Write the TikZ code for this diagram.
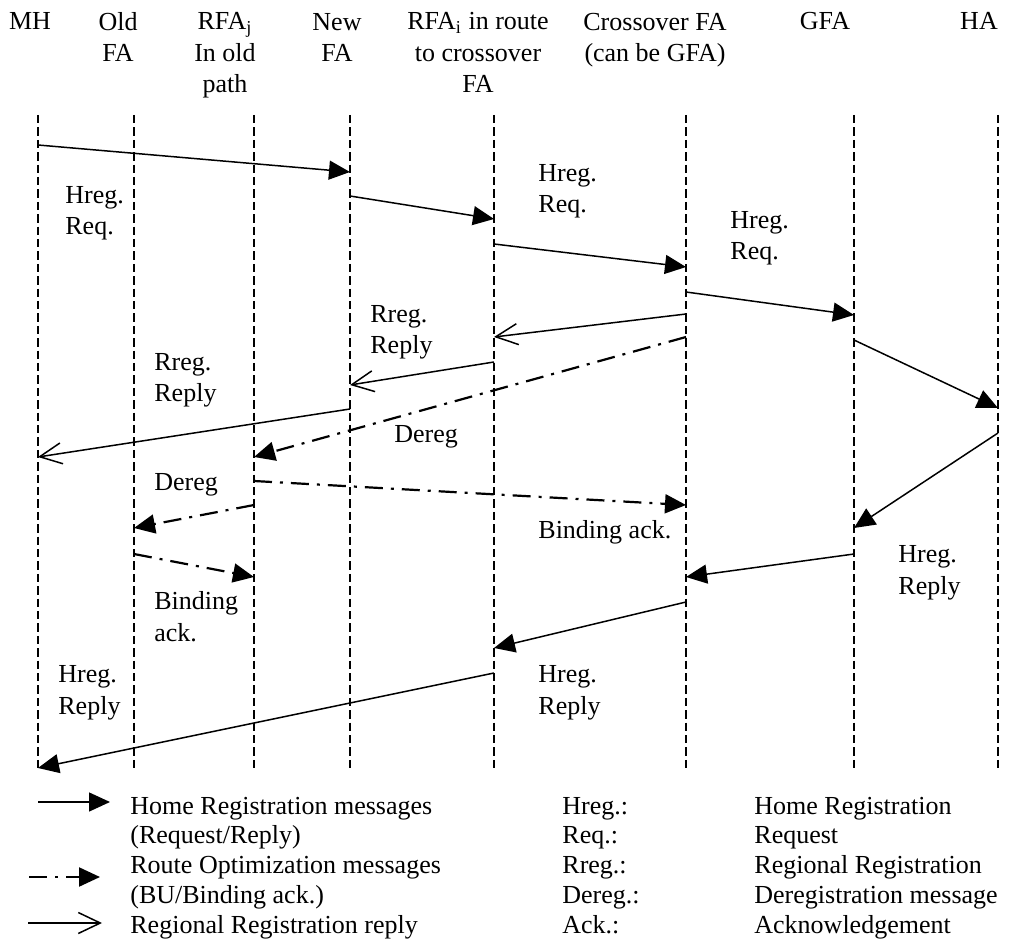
\documentclass[tikz,border=0pt]{standalone}
\usepackage{fontspec}
\setmainfont{Liberation Serif}
\usetikzlibrary{arrows.meta}

\begin{document}
\begin{tikzpicture}[x=0.5pt, y=-0.5pt,
                every node/.style = {inner sep=0pt, font=\fontsize{13}{15.75}\selectfont},
                head/.style = {anchor=base, align=center},
                lbl/.style = {anchor=base west, align=left},
                key/.style = {anchor=base west, align=left, font=\fontsize{13}{14.875}\selectfont},
                life/.style = {line width=0.6pt, dash pattern=on 4.2pt off 2pt},
                hreg/.style = {line width=0.75pt, -{Triangle[length=10.5pt, width=9.5pt]}},
                bu/.style = {line width=1.1pt, dash pattern=on 9pt off 4pt on 1.5pt off 4pt, -{Triangle[length=10.5pt, width=9.5pt]}},
                rreg/.style = {line width=0.75pt, -{Straight Barb[length=11pt, width=10.5pt]}}]
                \useasboundingbox (0,0) rectangle (1016,940);

                \node[head] (MH) at (30,30) {MH};
                \node[head] (OFA) at (118,62) {Old\\FA};
                \node[head] (RFAj) at (225,93) {RFA\textsubscript{j}\\In old\\path};
                \node[head] (NFA) at (337,62) {New\\FA};
                \node[head] (RFAi) at (478,93) {RFA\textsubscript{i} in route\\to crossover\\FA};
                \node[head] (CFA) at (655,62) {Crossover FA\\(can be GFA)};
                \node[head] (GFA) at (825,30) {GFA};
                \node[head] (HA) at (979,30) {HA};

                \foreach \n/\x in {mh/38, ofa/134, rfaj/254, nfa/350, rfai/494, cfa/686, gfa/854, ha/998}
                {
                    \coordinate (\n) at (\x,115);
                    \coordinate (\n b) at (\x,772);
                    \draw[life] (\n) -- (\n b);
                }

                \draw[hreg] (mh |- 0,145) -- (nfa |- 0,172);
                \draw[hreg] (nfa |- 0,196) -- (rfai |- 0,219);
                \draw[hreg] (rfai |- 0,244) -- (cfa |- 0,267);
                \draw[hreg] (cfa |- 0,292) -- (gfa |- 0,315);
                \draw[hreg] (gfa |- 0,340) -- (ha |- 0,408);
                \draw[rreg] (cfa |- 0,314) -- (rfai |- 0,337);
                \draw[rreg] (rfai |- 0,362) -- (nfa |- 0,385);
                \draw[rreg] (nfa |- 0,409) -- (mh |- 0,457);
                \draw[bu] (cfa |- 0,337) -- (rfaj |- 0,457);
                \draw[bu] (rfaj |- 0,481) -- (cfa |- 0,505);
                \draw[bu] (rfaj |- 0,505) -- (ofa |- 0,528);
                \draw[bu] (ofa |- 0,554) -- (rfaj |- 0,577);
                \draw[hreg] (ha |- 0,433) -- (gfa |- 0,528);
                \draw[hreg] (gfa |- 0,554) -- (cfa |- 0,577);
                \draw[hreg] (cfa |- 0,602) -- (rfai |- 0,648);
                \draw[hreg] (rfai |- 0,673) -- (mh |- 0,768);

                \node[lbl] (l1) at (65,235) {Hreg.\\Req.};
                \node[lbl] (l2) at (538,213) {Hreg.\\Req.};
                \node[lbl] (l3) at (730,260) {Hreg.\\Req.};
                \node[lbl] (l4) at (370,354) {Rreg.\\Reply};
                \node[lbl] (l5) at (154,402) {Rreg.\\Reply};
                \node[lbl] (l6) at (394,443) {Dereg};
                \node[lbl] (l7) at (154,490) {Dereg};
                \node[lbl] (l8) at (538,538) {Binding ack.};
                \node[lbl] (l9) at (154,641) {Binding\\ack.};
                \node[lbl] (l10) at (898,594) {Hreg.\\Reply};
                \node[lbl] (l11) at (58,714) {Hreg.\\Reply};
                \node[lbl] (l12) at (538,714) {Hreg.\\Reply};

                \coordinate (k1) at (38,802);
                \coordinate (k1e) at (110,802);
                \coordinate (k2) at (29,877);
                \coordinate (k2e) at (100,877);
                \coordinate (k3) at (28,923);
                \coordinate (k3e) at (102,923);
                \draw[hreg] (k1) -- (k1e);
                \draw[bu] (k2) -- (k2e);
                \draw[rreg] (k3) -- (k3e);
                \node[key] (key1) at (130,843.75) {Home Registration messages\\(Request/Reply)};
                \node[key] (key2) at (130,903.25) {Route Optimization messages\\(BU/Binding ack.)};
                \node[key] (key3) at (130,933) {Regional Registration reply};

                \foreach \a/\b [count=\i] in {Hreg.:/Home Registration, Req.:/Request, Rreg.:/Regional Registration, Dereg.:/Deregistration message, Ack.:/Acknowledgement}
                {
                    \node[key] (ab\i) at (562,{814+29.75*(\i-1)}) {\a};
                    \node[key] (ex\i) at (754,{814+29.75*(\i-1)}) {\b};
                }

            \end{tikzpicture}
\end{document}
